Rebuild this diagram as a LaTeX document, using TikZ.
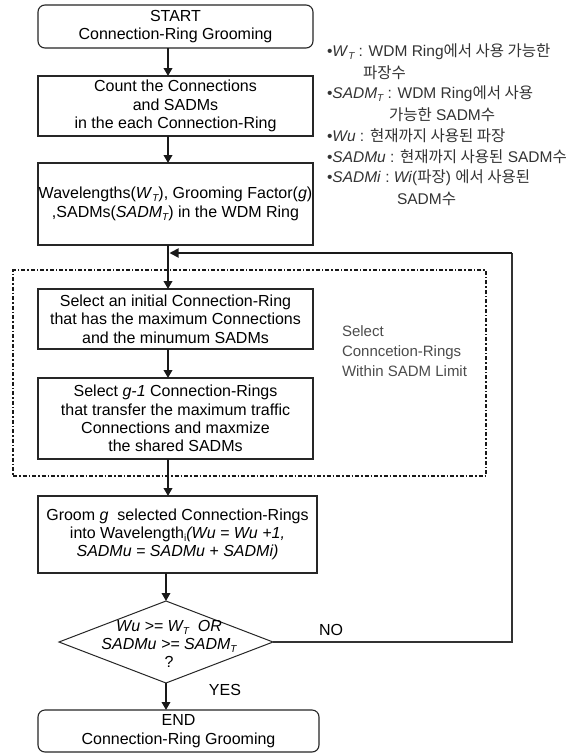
\documentclass[tikz,border=0pt]{standalone}
\usepackage{fontspec}
\setmainfont{Liberation Sans}
\newfontfamily\kr{Noto Sans CJK KR}
\usetikzlibrary{arrows.meta,shapes.geometric}
\newcommand\mysub[1]{\raisebox{-0.35ex}{\fontsize{10}{10}\selectfont #1}}
\begin{document}
\begin{tikzpicture}[x=1pt,y=-1pt,
  every node/.style={inner sep=0pt, outer sep=0pt},
  txt/.style={font=\fontsize{16}{18.3}\selectfont, align=center},
  box/.style={txt, draw=black!85, line width=1.1pt},
  rbox/.style={box, rounded corners=7pt},
  flow/.style={line width=2.3pt, draw=black!90, -{Triangle[length=8pt,width=8.5pt]}},
  flowthin/.style={line width=1.8pt, draw=black!90, -{Triangle[length=8pt,width=8.5pt]}},
  leg/.style={font=\fontsize{15.5}{17}\selectfont, text=black!80, anchor=west},
  side/.style={font=\fontsize{15}{20}\selectfont, text=black!70, align=left, anchor=west},
  dashdot/.style={line width=1.4pt, draw=black!90, dash pattern=on 4pt off 2pt on 1.5pt off 2pt}
]
\useasboundingbox (0,0) rectangle (583,753);
\fill[white] (0,0) rectangle (583,753);

% main boxes
\node[rbox, minimum width=275, minimum height=43] (b1) at (175.5,26.5) {START\\Connection-Ring Grooming};
\node[box, minimum width=275, minimum height=60] (b2) at (175.5,106) {Count the Connections\\and SADMs\\in the each Connection-Ring};
\node[box, minimum width=275, minimum height=82] (b3) at (175.5,204) {Wavelengths(\textit{W}\mysub{\itshape T}), Grooming Factor(\textit{g})\\,SADMs(\textit{SADM}\mysub{\itshape T}) in the WDM Ring};
\node[box, minimum width=275, minimum height=60] (b4) at (175.5,319) {Select an initial Connection-Ring\\that has the maximum Connections\\and the minumum SADMs};
\node[box, minimum width=275, minimum height=81] (b5) at (175.5,418.5) {Select \textit{g-1} Connection-Rings\\that transfer the maximum traffic\\Connections and maxmize\\the shared SADMs};
\node[box, minimum width=279, minimum height=77] (b6) at (177.5,534.5) {Groom \textit{g}\ \ selected Connection-Rings\\into Wavelength\mysub{i}\textit{(Wu =\ Wu +1,}\\\textit{SADMu = SADMu + SADMi)}};
\node[diamond, draw=black!85, line width=1pt, minimum width=214, minimum height=82] (d) at (166,642) {};
\node[txt] (dt) at (169,644) {\textit{Wu >= W\mysub{\itshape T}\ \ OR}\\\textit{SADMu >= SADM\mysub{\itshape T}}\\?};
\node[rbox, minimum width=281, minimum height=42] (b7) at (178.5,731) {END\\Connection-Ring Grooming};

% dash-dot group
\node[dashdot, draw, minimum width=473, minimum height=206] (grp) at (249.5,373) {};
\node[side] (st) at (342,351) {Select\\Conncetion-Rings\\Within SADM Limit};

% arrows
\coordinate (ax) at (168,0);
\coordinate (bx) at (166,0);
\draw[flow] (b1.south -| ax) -- (b2.north -| ax);
\draw[flow] (b2.south -| ax) -- (b3.north -| ax);
\draw[flow] (b3.south -| ax) -- (b4.north -| ax);
\draw[flow] (b4.south -| ax) -- (b5.north -| ax);
\draw[flow] (b5.south -| ax) -- (b6.north -| ax);
\draw[flowthin] (b6.south -| bx) -- (d.north);
\draw[flowthin] (d.south) -- (b7.north -| bx);

% feedback loop
\coordinate (fr) at (512,253);
\coordinate (fj) at (169.5,253);
\draw[line width=1.2pt, draw=black!80] (d.east) -- (d.east -| fr) -- (fr);
\draw[line width=1.8pt, draw=black!90, -{Triangle[length=9pt,width=9pt]}] (fr) -- (fj);

\node[txt] (no) at (331,630) {NO};
\node[txt] (yes) at (225,690) {YES};

% legend
\node[leg] (l1) at (327,52) {•\textit{W}\mysub{\itshape T} : WDM Ring{\kr 에서 사용 가능한}};
\node[leg] (l2) at (363,73) {{\kr 파장수}};
\node[leg] (l3) at (327,94) {•\textit{SADM}\mysub{\itshape T} : WDM Ring{\kr 에서 사용}};
\node[leg] (l4) at (389,115) {{\kr 가능한} SADM{\kr 수}};
\node[leg] (l5) at (327,136) {•\textit{Wu} : {\kr 현재까지 사용된 파장}};
\node[leg] (l6) at (327,157) {•\textit{SADMu} : {\kr 현재까지 사용된} SADM{\kr 수}};
\node[leg] (l7) at (327,178) {•\textit{SADMi} :\ \textit{Wi}({\kr 파장}) {\kr 에서 사용된}};
\node[leg] (l8) at (397,199) {SADM{\kr 수}};
\end{tikzpicture}
\end{document}
